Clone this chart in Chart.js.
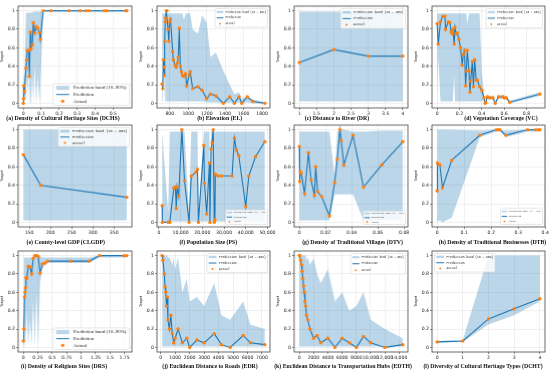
<!DOCTYPE html>
<html><head><meta charset="utf-8">
<script src="https://cdn.jsdelivr.net/npm/chart.js@4"></script>
<style>
html,body{margin:0;padding:0;background:#fff;}
#wrap{position:relative;width:550px;height:371px;overflow:hidden;background:#fff;}
canvas{position:absolute;}
.cap{position:absolute;white-space:nowrap;transform:translate(-50%,-50%);font:bold 5.8px "Liberation Serif","Times New Roman",serif;color:#111;}
</style></head><body><div id="wrap"></div>
<script>
// ---------- data ----------
const aX = [0,0.001,0.002,0.006,0.015,0.019,0.022,0.03,0.034,0.039,0.043,0.05,0.056,0.063,0.072,0.08,0.09,0.095,0.111,0.155,0.255,0.316,0.35,0.368,0.45,0.465,0.571,0.576];
const aActual = [0,0.05,0.19,0.13,0.38,0.47,0.57,0.57,0.29,0.77,0.59,0.63,0.87,0.76,0.83,0.81,0.76,0.69,1,1,1,1,1,1,1,1,1,1];
const aLow = [0,0,0.02,0.02,0.05,0.3,0.02,0.4,0,0.2,0,0.3,0,0.4,0,0.3,0,0.2,0.99,0.99,0.99,0.99,0.99,0.99,0.99,0.99,0.99,0.99];
const aHigh = [0.05,0.1,0.3,0.3,0.97,0.98,0.98,0.98,0.98,0.98,0.98,0.98,0.99,0.99,0.99,0.99,0.99,0.99,1,1,1,1,1,1,1,1,1,1];
const aTicks = [0,0.1,0.2,0.3,0.4,0.5];

const bX = [717,725,731,739,742,747,751,754,762,769,781,789,797,808,831,838,857,869,884,892,903,914,926,937,952,971,983,1009,1021,1048,1105,1150,1200,1240,1300,1380,1450,1500,1550,1580,1640,1700,1830];
const bActual = [0.21,0.16,0.47,0.39,0.3,0.67,0.88,0.92,1,1,0.8,0.67,0.88,0.91,0.56,0.47,0.41,0.39,0.44,0.5,0.81,0.4,0.34,0.3,0.29,0.32,0.19,0.3,0.34,0.16,0.18,0.14,0.05,0.1,0.08,0,0.07,0,0.07,0,0.07,0.02,0];
const bLow = [0.02,0.02,0.6,0.02,0.02,0.02,0.3,0.02,0.02,0.02,0.02,0.02,0.02,0.02,0.02,0.02,0.02,0.02,0.02,0.02,0.02,0.02,0.02,0.02,0.02,0.02,0.02,0.02,0.02,0.02,0.02,0.02,0.01,0.01,0.01,0,0.01,0,0.01,0,0.01,0,0];
const bHigh = [0.97,0.97,0.97,0.97,0.97,0.97,0.97,0.97,0.97,0.97,0.97,0.97,0.97,0.97,0.97,0.97,0.97,0.97,0.97,0.97,0.97,0.97,0.97,0.97,0.9,0.97,0.97,0.97,0.97,0.8,0.75,0.95,0.87,0.5,0.55,0.35,0.2,0.1,0.12,0.05,0.08,0.04,0.01];
const bTicks = [800,1000,1200,1400,1600,1800];

const cX = [1,2,3,4];
const cActual = [0.44,0.58,0.51,0.51];
const cLow = [0.02,0.02,0.02,0.02];
const cHigh = [0.99,0.99,0.99,0.99];
const cTicks = [1,1.5,2,2.5,3,3.5,4];

const dX = [0,0.01,0.03,0.05,0.07,0.075,0.1,0.114,0.126,0.135,0.14,0.153,0.16,0.17,0.18,0.195,0.21,0.225,0.235,0.245,0.255,0.262,0.27,0.285,0.294,0.3,0.315,0.325,0.336,0.35,0.36,0.38,0.4,0.42,0.43,0.435,0.45,0.47,0.5,0.52,0.55,0.59,0.6,0.62,0.65,0.92];
const dActual = [0.86,0.64,0.88,0.94,0.94,0.8,0.88,0.87,0.77,0.75,0.8,0.64,0.82,0.75,0.76,0.69,0.6,0.41,0.53,0.57,0.19,0.35,0.57,0.35,0.12,0.24,0.45,0.18,0.47,0.25,0.25,0.18,0.14,0.06,0,0.01,0.07,0.06,0.06,0,0.07,0.07,0.06,0.06,0.01,0.1];
const dLow = [0.02,0.5,0.02,0.02,0.02,0.02,0.02,0.02,0.02,0.02,0.02,0.3,0.02,0.02,0.02,0.02,0.02,0.02,0.02,0.02,0.02,0.02,0.02,0.02,0.02,0.02,0.02,0.02,0.02,0.02,0.02,0.02,0.02,0.03,0,0,0.05,0.04,0.04,0,0.05,0.05,0.04,0.04,0,0.08];
const dHigh = [0.97,0.97,0.97,0.97,0.97,0.97,0.97,0.97,0.97,0.97,0.97,0.97,0.97,0.97,0.97,0.97,0.97,0.97,0.97,0.97,0.97,0.97,0.85,0.97,0.97,0.97,0.97,0.97,0.97,0.97,0.97,0.97,0.35,0.1,0.02,0.03,0.09,0.08,0.08,0.02,0.09,0.09,0.08,0.08,0.03,0.12];
const dTicks = [0,0.2,0.4,0.6,0.8];

const eX = [136,177,380];
const eActual = [0.73,0.40,0.27];
const eLow = [0.02,0.02,0.02];
const eHigh = [1.0,1.0,1.0];
const eTicks = [150,200,250,300,350];

const fX = [1500,1600,4300,5000,6900,7600,8000,8360,9100,10600,11800,13900,14900,17000,17800,18200,20700,21000,22000,23300,23500,24000,24500,25000,25500,25800,26000,27300,28800,33700,34800,35700,36800,40000,41400,44500,48800];
const fActual = [0.18,0,0,0,0.37,0.38,0.15,0.38,0.28,1.0,0.45,0,0.5,0.54,0.57,0,0.83,0.42,0.09,0.64,0,0.79,0.86,1.0,0,0.03,0.52,0.5,0.5,0.5,0.91,0.78,0.72,0.17,0.5,0.71,0.87];
const fLow = [0.01,0.01,0.01,0.01,0.01,0.01,0.01,0.01,0.01,0.01,0.01,0.01,0.01,0.01,0.01,0.01,0.01,0.01,0.01,0.01,0.01,0.01,0.01,0.01,0.01,0.01,0.01,0.01,0.01,0.01,0.01,0.01,0.01,0.01,0.01,0.01,0.01];
const fHigh = [0.98,0.98,0.1,0.98,0.98,0.98,0.98,0.98,0.98,0.98,0.98,0.1,0.98,0.98,0.98,0.1,0.98,0.98,0.98,0.98,0.1,0.98,0.98,0.98,0.98,0.98,0.98,0.98,0.98,0.98,0.98,0.98,0.98,0.98,0.98,0.98,0.98];
const fTicks = [0,10000,20000,30000,40000,50000];

const gX = [0,0.0003,0.0008,0.0015,0.004,0.007,0.009,0.0115,0.0125,0.014,0.017,0.023,0.027,0.029,0.031,0.032,0.034,0.041,0.049,0.063,0.079];
const gActual = [0.82,0.44,0.55,0.53,0.31,0.75,0.46,0.29,0.6,0.33,0.28,0.07,0.43,0.68,1.0,0.88,0.62,0.94,0.38,0.62,0.87];
const gLow = [0.02,0.02,0.02,0.02,0.02,0.02,0.02,0.02,0.02,0.02,0.02,0.02,0.3,0.3,0.3,0.3,0.3,0.3,0.02,0.02,0.02];
const gHigh = [0.98,0.98,0.98,0.98,0.98,0.98,0.98,0.98,0.98,0.98,0.98,0.98,0.5,0.98,1,1,1,0.98,0.98,0.99,0.99];
const gTicks = [0,0.02,0.04,0.06,0.08];

const hX = [0,0.001,0.01,0.02,0.054,0.158,0.219,0.225,0.232,0.254,0.335,0.365,0.375,0.38];
const hActual = [0.34,0.64,0.62,0.375,0.67,0.94,1,1,1,0.94,1,1,1,1];
const hLow = [0,0.01,0.02,0,0.05,0.92,0.98,0.98,0.98,0.92,0.98,0.98,0.98,0.98];
const hHigh = [1,1,1,1,1,0.99,1,1,1,0.99,1,1,1,1];
const hTicks = [0,0.1,0.2,0.3,0.4];

const iX = [0,0.01,0.02,0.03,0.04,0.047,0.06,0.087,0.116,0.145,0.17,0.2,0.23,0.26,0.29,0.33,0.38,0.42,0.82,1.14,1.32,1.74,1.79];
const iActual = [0.07,0.2,0.55,0.6,0.65,0.76,0.75,0.885,0.875,0.8,0.97,1.0,1.0,0.99,0.81,0.91,0.92,0.94,0.94,0.94,1.0,1.0,1.0];
const iLow = [0,0.02,0.02,0.3,0.02,0.02,0.4,0.02,0.3,0.02,0.5,0.02,0.6,0.02,0.7,0.85,0.9,0.92,0.92,0.92,0.98,0.98,0.98];
const iHigh = [0.3,0.98,0.98,0.98,0.98,0.98,0.98,0.98,0.98,0.98,0.98,0.99,0.99,0.99,0.99,0.98,0.98,0.98,0.98,0.98,1,1,1];
const iTicks = [0,0.25,0.5,0.75,1,1.25,1.5,1.75];

const jX = [100,150,250,300,350,400,450,500,600,700,800,900,1000,1200,1500,1800,2000,2500,3000,3700,4200,4800,5700,6200,7200];
const jActual = [1.0,0.95,0.8,0.66,0.6,0.45,0.55,0.3,0.2,0.35,0.15,0.05,0.1,0.2,0.05,0.1,0.0,0.08,0.05,0.15,0.03,0.0,0.13,0.05,0.03];
const jLow = [0.01,0.01,0.01,0.01,0.01,0.01,0.01,0.01,0.01,0.01,0.01,0.01,0.01,0.01,0.01,0.01,0.01,0.01,0.01,0.01,0.01,0.01,0.01,0.01,0.01];
const jHigh = [1,1,1,1,1,1,1,0.98,0.98,0.95,0.9,0.97,0.85,0.98,0.6,0.75,0.5,0.55,0.45,0.7,0.35,0.3,0.5,0.25,0.2];
const jTicks = [0,1000,2000,3000,4000,5000,6000,7000];

const kX = [0,100,200,300,400,500,600,700,800,900,1000,1200,1500,2000,2500,3000,4000,5000,6000,7000,8000,9000,10000,12000,14500];
const kActual = [1,1,0.95,0.9,0.83,0.75,0.67,0.6,0.5,0.45,0.35,0.3,0.2,0.1,0.13,0.05,0.1,0.0,0.1,0.05,0.0,0.12,0.05,0.0,0.03];
const kLow = [0.01,0.01,0.01,0.01,0.01,0.01,0.01,0.01,0.01,0.01,0.01,0.01,0.01,0.01,0.01,0.01,0.01,0.01,0.01,0.01,0.01,0.01,0.01,0.01,0.01];
const kHigh = [1,1,1,1,1,1,1,1,1,1,0.95,0.98,0.9,0.97,0.8,0.7,0.85,0.5,0.6,0.4,0.45,0.6,0.3,0.2,0.1];
const kTicks = [0,2000,4000,6000,8000,10000,12000,14000];

const lX = [0,1,2,3,4];
const lActual = [0.06,0.07,0.31,0.42,0.53];
const lLow = [0.05,0.06,0.25,0.35,0.5];
const lHigh = [0.07,0.08,1.0,1.0,1.0];
const lTicks = [0,1,2,3,4];

const yTicks = [0,0.2,0.4,0.6,0.8,1];
const captions = [
  "(a) Density of Cultural Heritage Sites (DCHS)","(b) Elevation (EL)","(c) Distance to River (DR)","(d) Vegetation Coverage (VC)",
  "(e) County-level GDP (CLGDP)","(f) Population Size (PS)","(g) Density of Traditional Villages (DTV)","(h) Density of Traditional Businesses (DTB)",
  "(i) Density of Religious Sites (DRS)","(j) Euclidean Distance to Roads (EDR)","(k) Euclidean Distance to Transportation Hubs (EDTH)","(l) Diversity of Cultural Heritage Types (DCHT)"
];
const legendLabelsSerif = ["Prediction band (10\u201390%)","Prediction","Actual"];
const legendLabelsMono = ["Prediction band (10 - 90%)","Prediction","Actual"];

// ---------- layout / style ----------
const BAND = 'rgba(31,119,180,0.3)';
const LINE = '#1f77b4';
const DOT = '#ff7f0e';
const colL = [18.1,156.7,294.1,431.6];
const rowT = [6.1,125.3,250.7];
const FW = 113.8, FH = 101.7;
const capX = [63,219.7,337,501, 65.8,208.3,352.5,492.5, 64,210,343,483];
const capY = [118.3,242.3,366];

const panels = [
  {x:aX,a:aActual,p:aActual,lo:aLow,hi:aHigh,t:aTicks,leg:{corner:'br',serif:true,fs:5,row:6.6}},
  {x:bX,a:bActual,p:bActual,lo:bLow,hi:bHigh,t:bTicks,leg:{corner:'tr',fs:2.6,row:5.8}},
  {x:cX,a:cActual,p:cActual,lo:cLow,hi:cHigh,t:cTicks,leg:{corner:'tr',fs:3.2,row:6.2}},
  {x:dX,a:dActual,p:dActual,lo:dLow,hi:dHigh,t:dTicks,leg:{corner:'tr',fs:2.8,row:6}},
  {x:eX,a:eActual,p:eActual,lo:eLow,hi:eHigh,t:eTicks,leg:{corner:'tr',fs:3.5,row:5.8}},
  {x:fX,a:fActual,p:fActual,lo:fLow,hi:fHigh,t:fTicks,leg:{corner:'br',fs:2.1,row:4.6}},
  {x:gX,a:gActual,p:gActual,lo:gLow,hi:gHigh,t:gTicks,leg:{corner:'br',fs:2.1,row:4.2}},
  {x:hX,a:hActual,p:hActual,lo:hLow,hi:hHigh,t:hTicks,leg:{corner:'br',fs:2.1,row:5}},
  {x:iX,a:iActual,p:iActual,lo:iLow,hi:iHigh,t:iTicks,leg:{corner:'br',serif:true,fs:5,row:6.6}},
  {x:jX,a:jActual,p:jActual,lo:jLow,hi:jHigh,t:jTicks,leg:{corner:'tr',fs:3,row:6}},
  {x:kX,a:kActual,p:kActual,lo:kLow,hi:kHigh,t:kTicks,leg:{corner:'tr',fs:2.7,row:6.5}},
  {x:lX,a:lActual,p:lActual,lo:lLow,hi:lHigh,t:lTicks,leg:{corner:'tl',fs:3,row:5.8}},
];

const deco = {
  id:'deco',
  afterDatasetsDraw(chart, args, o){
    const ctx = chart.ctx, ca = chart.chartArea;
    ctx.save();
    ctx.strokeStyle = '#444'; ctx.lineWidth = 0.8;
    ctx.strokeRect(ca.left, ca.top, ca.right-ca.left, ca.bottom-ca.top);
    const L = o.leg, fs = L.fs;
    const fam = L.serif ? '"Liberation Serif","Times New Roman",serif' : '"Liberation Mono","DejaVu Sans Mono",monospace';
    const labels = L.serif ? legendLabelsSerif : legendLabelsMono;
    ctx.font = fs + 'px ' + fam;
    const tw = Math.max(...labels.map(s => ctx.measureText(s).width));
    const sw = fs*2.6, gap = fs*0.8, pad = fs*0.6, m = 2.5;
    const w = pad*2 + sw + gap + tw, h = L.row*3 + pad*0.6;
    const bx = L.corner.includes('r') ? ca.right - w - m : ca.left + m;
    const by = L.corner.includes('b') ? ca.bottom - h - m : ca.top + m;
    ctx.beginPath();
    const r = 1.2;
    ctx.roundRect ? ctx.roundRect(bx, by, w, h, r) : ctx.rect(bx, by, w, h);
    ctx.fillStyle = 'rgba(255,255,255,0.8)'; ctx.fill();
    ctx.strokeStyle = '#d0d0d0'; ctx.lineWidth = 0.5; ctx.stroke();
    ctx.textBaseline = 'middle';
    for (let i=0;i<3;i++){
      const cy = by + pad*0.3 + L.row*(i+0.5);
      const sx = bx + pad;
      if (i===0){ ctx.fillStyle = BAND; ctx.fillRect(sx, cy - fs*0.4, sw, fs*0.8); }
      else if (i===1){ ctx.strokeStyle = LINE; ctx.lineWidth = 1; ctx.beginPath(); ctx.moveTo(sx, cy); ctx.lineTo(sx+sw, cy); ctx.stroke(); }
      else { ctx.fillStyle = DOT; ctx.beginPath(); ctx.arc(sx+sw/2, cy, Math.max(0.9, fs*0.32), 0, Math.PI*2); ctx.fill(); }
      ctx.fillStyle = '#222';
      ctx.fillText(labels[i], sx + sw + gap, cy);
    }
    ctx.restore();
  }
};

const wrap = document.getElementById('wrap');
const fmt = v => (Math.abs(v) >= 10000 ? v.toLocaleString('en-US') : String(v));
const tickFont = {family:'"DejaVu Sans",sans-serif', size:4.6};

panels.forEach((P, idx) => {
  const col = idx % 4, row = Math.floor(idx/4);
  const padL = 18, padT = 6, padR = 12, axH = 12;
  const cw = padL + FW + padR, ch = padT + FH + axH;
  const c = document.createElement('canvas');
  c.width = cw; c.height = ch;
  c.style.left = (colL[col]-padL) + 'px'; c.style.top = (rowT[row]-padT) + 'px';
  c.style.width = cw + 'px'; c.style.height = ch + 'px';
  wrap.appendChild(c);
  const xmin = Math.min(...P.x), xmax = Math.max(...P.x), mg = (xmax - xmin)*0.05;
  const pts = arr => P.x.map((v,i) => ({x:v, y:arr[i]}));
  new Chart(c, {
    type:'line',
    data:{datasets:[
      {data:pts(P.a), showLine:false, pointRadius:1.7, pointBackgroundColor:DOT, pointBorderWidth:0, borderColor:DOT},
      {data:pts(P.p), borderColor:LINE, borderWidth:1.1, pointRadius:0, fill:false},
      {data:pts(P.lo), borderColor:'rgba(0,0,0,0)', borderWidth:0, pointRadius:0, fill:false},
      {data:pts(P.hi), borderColor:'rgba(0,0,0,0)', borderWidth:0, pointRadius:0, fill:{target:2, above:BAND, below:BAND}}
    ]},
    options:{
      responsive:false, animation:false, devicePixelRatio:1,
      layout:{padding:{top:padT, right:padR, left:0, bottom:0}},
      plugins:{legend:{display:false}, tooltip:{enabled:false}, deco:{leg:P.leg}},
      scales:{
        x:{type:'linear', min:xmin-mg, max:xmax+mg,
          afterBuildTicks: s => { s.ticks = P.t.map(v => ({value:v})); },
          afterFit: s => { s.height = axH; s.paddingLeft = 0; s.paddingRight = 0; },
          ticks:{font:tickFont, color:'#222', padding:1, maxRotation:0, autoSkip:false, callback: v => fmt(v)},
          grid:{color:'#e6e6e6', lineWidth:0.6, tickLength:2, tickColor:'#444', tickWidth:0.6},
          border:{display:false}},
        y:{min:-0.05, max:1.05,
          afterBuildTicks: s => { s.ticks = yTicks.map(v => ({value:v})); },
          afterFit: s => { s.width = padL; s.paddingTop = 0; s.paddingBottom = 0; },
          title:{display:true, text:'Target', font:{family:'"DejaVu Sans",sans-serif', size:3.6}, color:'#222', padding:{top:0,bottom:0}},
          ticks:{font:tickFont, color:'#222', padding:1, callback: v => String(v)},
          grid:{color:'#e6e6e6', lineWidth:0.6, tickLength:2, tickColor:'#444', tickWidth:0.6},
          border:{display:false}}
      }
    },
    plugins:[deco]
  });
  const d = document.createElement('div');
  d.className = 'cap'; d.textContent = captions[idx];
  d.style.left = capX[idx] + 'px'; d.style.top = capY[row] + 'px';
  wrap.appendChild(d);
});
</script></body></html>
